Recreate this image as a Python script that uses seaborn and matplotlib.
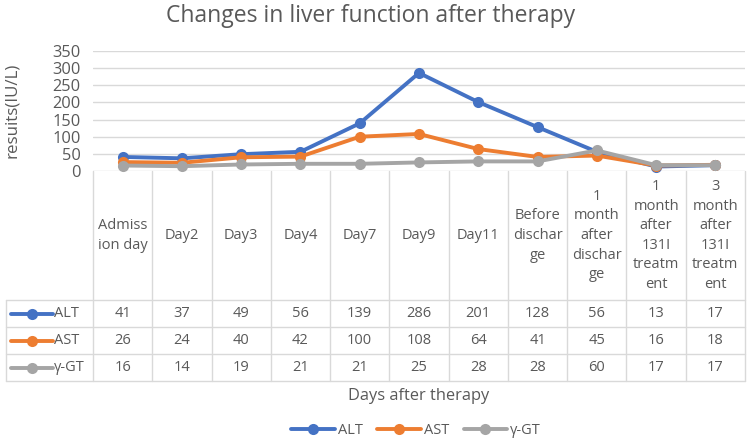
import matplotlib
matplotlib.use('Agg')
import matplotlib.pyplot as plt
import seaborn as sns
import pandas as pd
from matplotlib.lines import Line2D

# Data
###############################################################################

days = ['Admiss\nion day', 'Day2', 'Day3', 'Day4', 'Day7', 'Day9', 'Day11',
        'Before\ndischar\nge', '1\nmonth\nafter\ndischar\nge',
        '1\nmonth\nafter\n131I\ntreatm\nent', '3\nmonth\nafter\n131I\ntreatm\nent']
alt = [41, 37, 49, 56, 139, 286, 201, 128, 56, 13, 17]
ast = [26, 24, 40, 42, 100, 108, 64, 41, 45, 16, 18]
ggt = [16, 14, 19, 21, 21, 25, 28, 28, 60, 17, 17]
series = ['ALT', 'AST', 'γ-GT']
colors = ['#4472C4', '#ED7D31', '#A5A5A5']

df = pd.DataFrame({'idx': list(range(len(days))) * 3,
                   'value': alt + ast + ggt,
                   'series': [s for s in series for _ in days]})

# Style
###############################################################################

sns.set_style('white')
plt.rcParams['font.family'] = ['Open Sans', 'DejaVu Sans']
txt = '#595959'
grid = '#D9D9D9'
fs = 10.5

W, H = 750, 443
fig = plt.figure(figsize=(W / 100, H / 100), dpi=100)

# chart area in pixels
left, right, top, zero = 93, 745, 51, 171
ax = fig.add_axes([left / W, 1 - zero / H, (right - left) / W, (zero - top) / H])

sns.lineplot(data=df, x='idx', y='value', hue='series', palette=colors,
             hue_order=series, marker='o', markersize=8, markeredgewidth=0,
             linewidth=2.8, legend=False, ax=ax, clip_on=False)

ax.set_xlim(-0.5, len(days) - 0.5)
ax.set_ylim(0, 350)
ax.set_yticks(range(0, 351, 50))
ax.set_xticks([])
ax.set_xlabel('')
ax.set_ylabel('')
ax.yaxis.grid(True, color=grid, linewidth=1)
ax.set_axisbelow(True)
for s in ax.spines.values():
    s.set_visible(False)
ax.tick_params(axis='y', length=0, pad=9, labelsize=11.8, labelcolor=txt)

# Data table under the chart
###############################################################################

tleft, tbottom = 6, 381
rows = [0, 129, 156, 183, 210]  # row boundaries, pixels below the zero line
tb = fig.add_axes([tleft / W, 1 - tbottom / H, (right - tleft) / W, (tbottom - zero) / H])
colw = (right - left) / len(days)
x0 = -0.5 - (left - tleft) / colw
tb.set_xlim(x0, len(days) - 0.5)
tb.set_ylim(rows[-1], 0)
tb.axis('off')

lw = 1
# vertical lines
for i in range(len(days) + 1):
    tb.plot([i - 0.5, i - 0.5], [rows[0], rows[-1]], color=grid, lw=lw, clip_on=False)
tb.plot([x0, x0], [rows[1], rows[-1]], color=grid, lw=lw, clip_on=False)
# horizontal lines
for r in rows[1:]:
    tb.plot([x0, len(days) - 0.5], [r, r], color=grid, lw=lw, clip_on=False)

for i, d in enumerate(days):
    tb.text(i, (rows[0] + rows[1]) / 2, d, ha='center', va='center',
            fontsize=fs, color=txt, linespacing=1.42)

for j, (name, vals, c) in enumerate(zip(series, [alt, ast, ggt], colors)):
    yc = (rows[j + 1] + rows[j + 2]) / 2
    for i, v in enumerate(vals):
        tb.text(i, yc, str(v), ha='center', va='center', fontsize=fs, color=txt)
    lx0 = x0 + 5 / colw
    lx1 = x0 + 47 / colw
    tb.plot([lx0, lx1], [yc, yc], color=c, lw=2.8, clip_on=False,
            solid_capstyle='round')
    tb.plot([(lx0 + lx1) / 2], [yc], 'o', color=c, ms=8, mew=0, clip_on=False)
    tb.text(lx1 + 1 / colw, yc, name, ha='left', va='center', fontsize=fs, color=txt)

# Titles, axis label, legend
###############################################################################

fig.text(371 / W, 1 - 16 / H, 'Changes in liver function after therapy',
         ha='center', va='center', fontsize=16.5, color=txt)
fig.text(12 / W, 1 - 110 / H, 'resuits(IU/L)', rotation=90, ha='center',
         va='center', fontsize=12.2, color=txt)
fig.text(419 / W, 1 - 396 / H, 'Days after therapy', ha='center', va='center',
         fontsize=11.8, color=txt)

handles = [Line2D([0], [0], color=c, lw=2.8, marker='o', ms=8, mew=0) for c in colors]
fig.legend(handles, series, loc='center', bbox_to_anchor=(416 / W, 1 - 431 / H),
           ncol=3, frameon=False, fontsize=fs, labelcolor=txt, handlelength=3,
           columnspacing=1.0, handletextpad=0.2)

fig.savefig('out.png', dpi=100)
